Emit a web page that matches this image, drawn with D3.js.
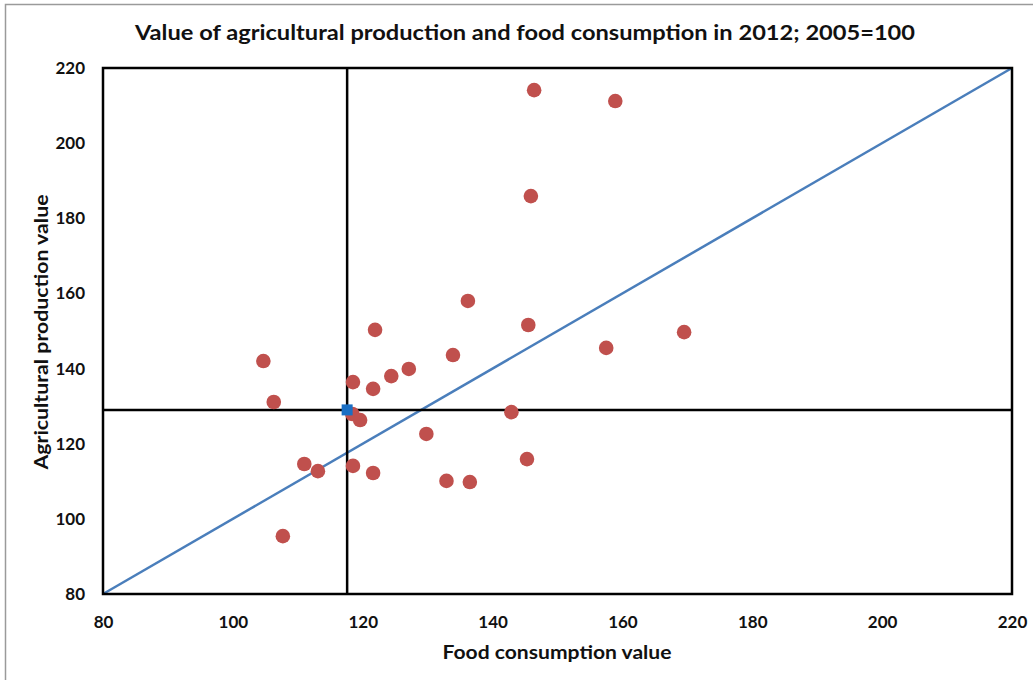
<!DOCTYPE html>
<html>
<head>
<meta charset="utf-8">
<script src="https://cdn.jsdelivr.net/npm/d3@7"></script>
<style>
  html, body { margin: 0; padding: 0; background: #fff; }
  svg { display: block; }
  text { font-family: Lato, "Open Sans", "DejaVu Sans", sans-serif; font-weight: bold; fill: #111; }
</style>
</head>
<body>
<svg id="chart" width="1033" height="680"></svg>
<script>
// ---- data ----
const consumption = [146.4, 158.9, 145.9, 136.2, 145.5, 121.9, 169.5, 157.5, 104.7, 133.9, 127.1, 124.4, 118.5, 121.6, 106.3, 142.9, 118.4, 119.6, 129.8, 111.0, 113.1, 118.5, 145.3, 121.6, 132.9, 136.5, 107.7];
const production  = [214.1, 211.2, 185.9, 158.0, 151.6, 150.3, 149.7, 145.5, 142.0, 143.6, 139.9, 138.0, 136.4, 134.6, 131.1, 128.4, 127.9, 126.3, 122.6, 114.6, 112.7, 114.1, 115.9, 112.2, 110.1, 109.8, 95.4];
const averagePoint = [117.6, 129.0];
const diagonal = [[80, 80], [220, 220]];
const xTicks = [80, 100, 120, 140, 160, 180, 200, 220];
const yTicks = [80, 100, 120, 140, 160, 180, 200, 220];
const titleText = "Value of agricultural production and food consumption in 2012; 2005=100";
const xLabel = "Food consumption value";
const yLabel = "Agricultural production value";

// ---- layout ----
const svg = d3.select("#chart");
const L = 103, R = 1012, T = 68, B = 594;
const x = d3.scaleLinear().domain([80, 220]).range([L, R]);
const y = d3.scaleLinear().domain([80, 220]).range([B, T]);

// outer frame (document border)
svg.append("path")
  .attr("d", "M5.5,690 L5.5,4.5 L1040,4.5")
  .attr("fill", "none").attr("stroke", "#9a9a9a").attr("stroke-width", 1.5);

// title
svg.append("text")
  .attr("x", 525).attr("y", 40)
  .attr("text-anchor", "middle")
  .attr("font-size", 20)
  .attr("textLength", 780).attr("lengthAdjust", "spacingAndGlyphs")
  .text(titleText);

// diagonal line
svg.append("line")
  .attr("x1", x(diagonal[0][0])).attr("y1", y(diagonal[0][1]))
  .attr("x2", x(diagonal[1][0])).attr("y2", y(diagonal[1][1]))
  .attr("stroke", "#4a7ebb").attr("stroke-width", 2.5);

// reference lines through the average point
svg.append("line")
  .attr("x1", x(averagePoint[0])).attr("x2", x(averagePoint[0]))
  .attr("y1", T).attr("y2", B)
  .attr("stroke", "#000").attr("stroke-width", 2.5);
svg.append("line")
  .attr("x1", L).attr("x2", R)
  .attr("y1", y(averagePoint[1])).attr("y2", y(averagePoint[1]))
  .attr("stroke", "#000").attr("stroke-width", 2.5);

// plot border
svg.append("rect")
  .attr("x", L).attr("y", T).attr("width", R - L).attr("height", B - T)
  .attr("fill", "none").attr("stroke", "#000").attr("stroke-width", 2.5);

// points
const pts = consumption.map((c, i) => [c, production[i]]);
svg.append("g").selectAll("circle").data(pts).join("circle")
  .attr("cx", d => x(d[0])).attr("cy", d => y(d[1]))
  .attr("r", 7.3)
  .attr("fill", "#c0504d");

// average marker (blue square)
svg.append("rect")
  .attr("x", x(averagePoint[0]) - 5.5).attr("y", y(averagePoint[1]) - 5.5)
  .attr("width", 11).attr("height", 11)
  .attr("fill", "#1a6fc4");

// axes (labels only)
const xAxis = d3.axisBottom(x).tickValues(xTicks).tickSize(0).tickPadding(22);
const gx = svg.append("g").attr("transform", `translate(0,${B})`).call(xAxis);
gx.select(".domain").remove();
gx.selectAll("text").attr("font-size", 17).attr("font-family", "Lato, 'Open Sans', sans-serif").attr("font-weight", "bold").attr("fill", "#111");

const yAxis = d3.axisLeft(y).tickValues(yTicks).tickSize(0).tickPadding(18);
const gy = svg.append("g").attr("transform", `translate(${L},0)`).call(yAxis);
gy.select(".domain").remove();
gy.selectAll("text").attr("font-size", 17).attr("font-family", "Lato, 'Open Sans', sans-serif").attr("font-weight", "bold").attr("fill", "#111");

// axis titles
svg.append("text")
  .attr("x", 557).attr("y", 659)
  .attr("text-anchor", "middle").attr("font-size", 18)
  .attr("textLength", 229).attr("lengthAdjust", "spacingAndGlyphs")
  .text(xLabel);

svg.append("text")
  .attr("transform", "translate(48,332) rotate(-90)")
  .attr("text-anchor", "middle").attr("font-size", 18)
  .attr("textLength", 275).attr("lengthAdjust", "spacingAndGlyphs")
  .text(yLabel);
</script>
</body>
</html>
